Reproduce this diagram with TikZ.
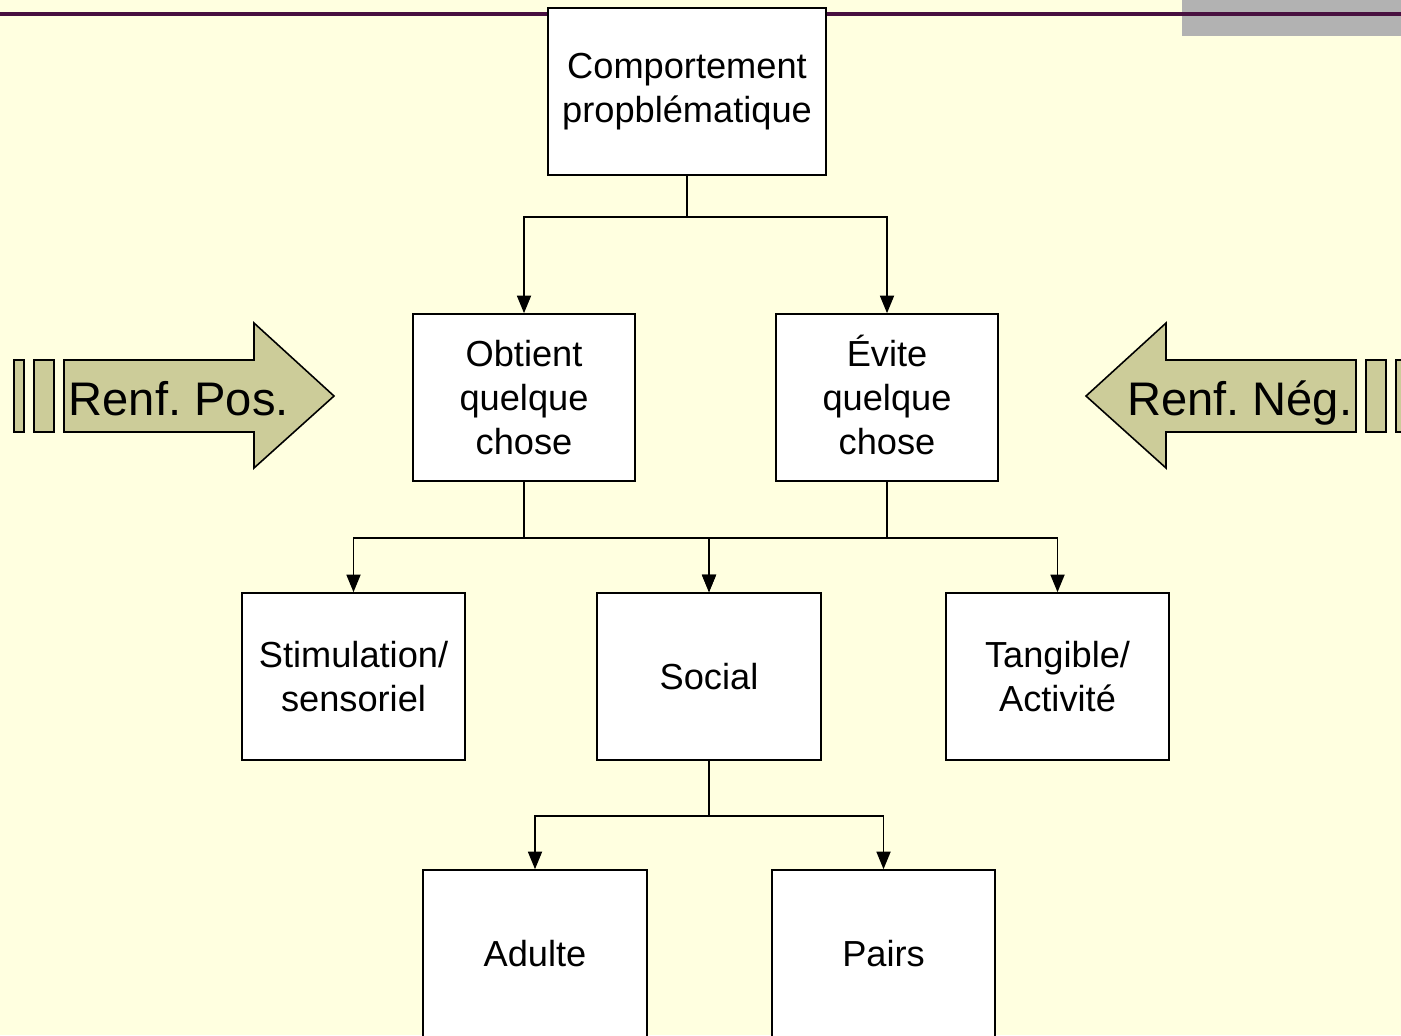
\documentclass[tikz,border=0pt]{standalone}
\usepackage{fontspec}
\setmainfont{Liberation Sans}
\usepackage{xcolor}
\usepackage{tikz}
\usetikzlibrary{arrows.meta}
\definecolor{fond}{RGB}{255,255,224}
\definecolor{kaki}{RGB}{204,204,153}
\definecolor{prune}{RGB}{72,16,64}
\definecolor{grisbar}{RGB}{178,178,178}
\frenchspacing
\tikzset{
	boite/.style={draw,fill=white,line width=0.45pt,minimum width=2.23cm,minimum height=1.67cm,inner sep=0pt,align=center,font=\fontsize{10.3}{12.5}\selectfont},
	fleche/.style={-{Triangle[length=5pt,width=4pt]},line width=0.45pt},
	renf/.style={draw,fill=kaki,line width=0.45pt},
	renftxt/.style={inner sep=0pt,font=\fontsize{13.4}{15}\selectfont}
}

\begin{document}
\begin{tikzpicture}[x=0.01cm,y=-0.01cm]
		\useasboundingbox (0,0) rectangle (1401,1035);
		\clip (0,0) rectangle (1401,1035);
		\fill [fond] (0,0) rectangle (1401,1035);
		\fill [grisbar] (1182,0) rectangle (1401,36);
		\draw [prune,line width=1pt] (0,14) -- (1401,14);
		\draw [renf] (64,360) -- (254,360) -- (254,323) -- (334,396) -- (254,468) -- (254,432) -- (64,432) -- cycle;
		\draw [renf] (14,360) rectangle (24,432);
		\draw [renf] (34,360) rectangle (54,432);
		\draw [renf] (1356,360) -- (1166,360) -- (1166,323) -- (1086,396) -- (1166,468) -- (1166,432) -- (1356,432) -- cycle;
		\draw [renf] (1366,360) rectangle (1386,432);
		\draw [renf] (1396,360) rectangle (1406,432);
		\node [renftxt,anchor=base west] (pos) at (68,415) {Renf. Pos.};
		\node [renftxt,anchor=base east] (neg) at (1353,415) {Renf. Nég.};
		\node [boite,minimum width=2.78cm] (comp) at (687,91.5) {Comportement\\propblématique};
		\node [boite,minimum width=2.22cm] (obtient) at (524,397.5) {Obtient\\quelque\\chose};
		\node [boite,minimum width=2.22cm] (evite) at (887,397.5) {\smash{É}vite\\quelque\\chose};
		\node [boite] (stim) at (353.5,676.5) {Stimulation/\\sensoriel};
		\node [boite,minimum width=2.24cm] (social) at (709,676.5) {Social};
		\node [boite] (tang) at (1057.5,676.5) {Tangible/\\Activité};
		\node [boite,minimum width=2.24cm] (adulte) at (535,953.5) {Adulte};
		\node [boite] (pairs) at (883.5,953.5) {Pairs};
		\draw [fleche] (comp.south) -- ++(0,41) -| (obtient.north);
		\draw [fleche] (comp.south) -- ++(0,41) -| (evite.north);
		\draw [fleche] (obtient.south) -- ++(0,56) -| (stim.north);
		\draw [fleche] (obtient.south) -- ++(0,56) -| (social.north);
		\draw [fleche] (evite.south) -- ++(0,56) -| (social.north);
		\draw [fleche] (evite.south) -- ++(0,56) -| (tang.north);
		\draw [fleche] (social.south) -- ++(0,55) -| (adulte.north);
		\draw [fleche] (social.south) -- ++(0,55) -| (pairs.north);
	\end{tikzpicture}
\end{document}
